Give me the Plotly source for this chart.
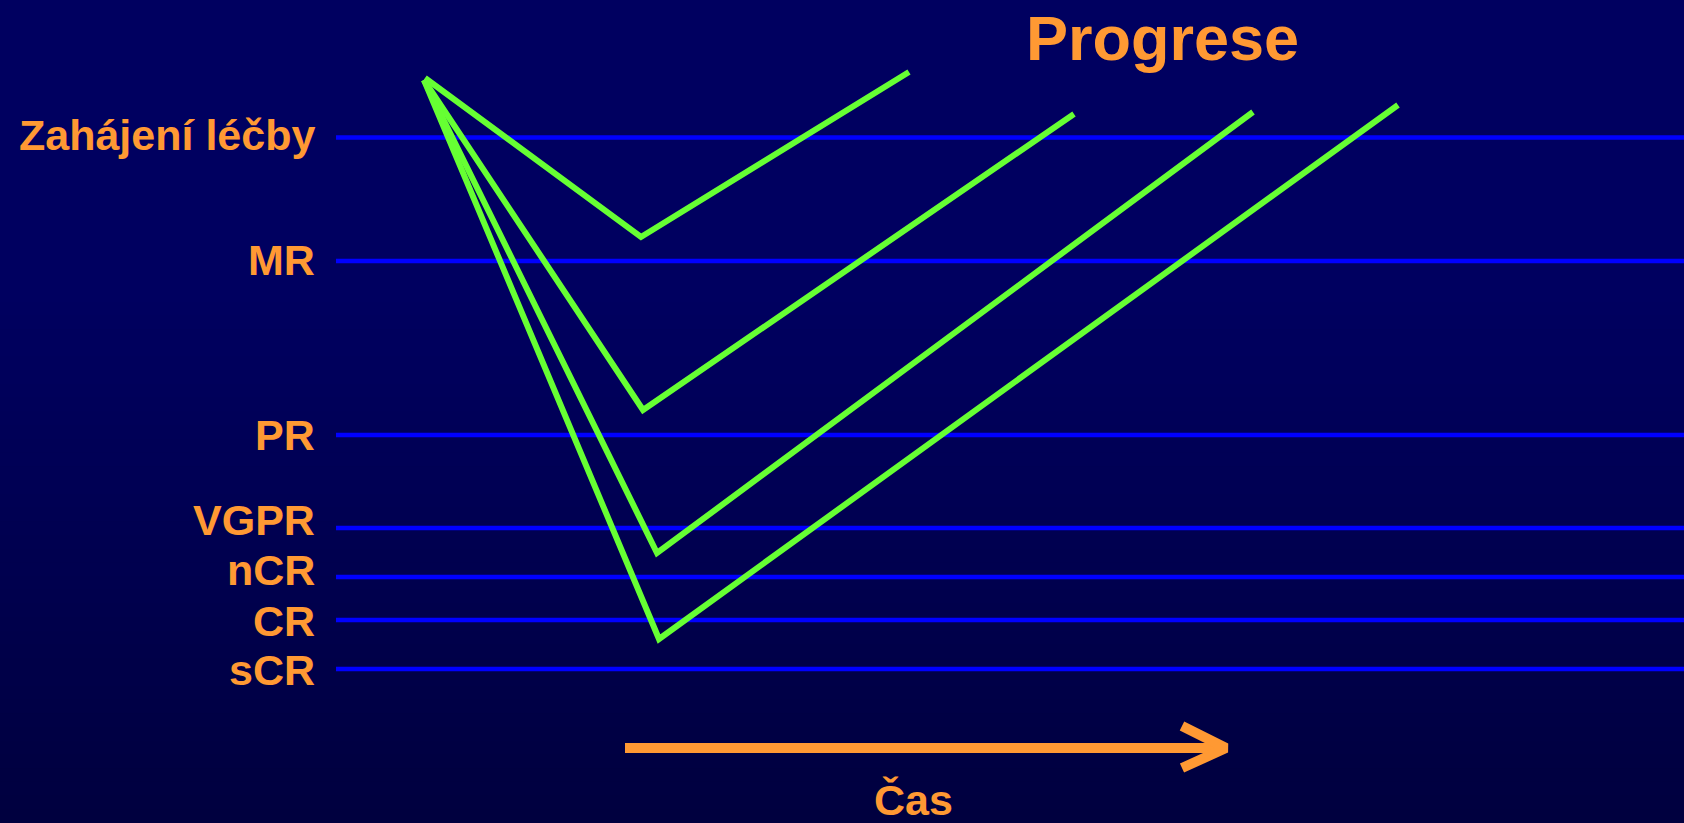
import plotly.graph_objects as go

# ---- data (axis units = figure pixels) ----
levels = ["Zahájení léčby", "MR", "PR", "VGPR", "nCR", "CR", "sCR"]
level_y = [137.5, 261, 435, 528, 577, 620, 669]
label_y = [134.5, 260, 435, 519.5, 570, 620.5, 670]   # visual centres of the labels

# four response curves: start -> nadir -> progression
curve_x = [
    [425, 641, 909],
    [424, 643, 1074],
    [424, 657, 1253],
    [424, 659, 1398],
]
curve_y = [
    [78, 237, 72],
    [80, 410, 114],
    [80, 553, 112],
    [80, 639, 105],
]

time_arrow_x = [625, 1226]
time_arrow_y = 748

W, H = 1684, 823
ORANGE = "#FF9933"
BLUE = "#0000FF"
GREEN = "#66FF33"
FONT = "Liberation Sans, Arial, sans-serif"

fig = go.Figure()

# horizontal response level lines
for lv, y in zip(levels, level_y):
    fig.add_trace(go.Scatter(x=[336, W + 5], y=[y, y], mode="lines",
                             line=dict(color=BLUE, width=4.5), hoverinfo="skip",
                             showlegend=False, name=lv))

# green curves
for xs, ys in zip(curve_x, curve_y):
    fig.add_trace(go.Scatter(x=xs, y=ys, mode="lines",
                             line=dict(color=GREEN, width=6), hoverinfo="skip",
                             showlegend=False))

# time arrow (shaft + open chevron)
x0, x1 = time_arrow_x
fig.add_trace(go.Scatter(
    x=[x0, x1, None, x1 - 44, x1, x1 - 44],
    y=[time_arrow_y, time_arrow_y, None, time_arrow_y - 22, time_arrow_y, time_arrow_y + 20],
    mode="lines", line=dict(color=ORANGE, width=10), hoverinfo="skip", showlegend=False))

# background gradient bands
shapes = []
n = 60
top = (0, 0, 96)
bot = (0, 0, 62)
for i in range(n):
    ya = H * i / n
    yb = H * (i + 1) / n + 1
    t = max(0.0, (ya / H - 0.35) / 0.65)
    c = tuple(round(top[k] + (bot[k] - top[k]) * t) for k in range(3))
    shapes.append(dict(type="rect", xref="x", yref="y", x0=0, x1=W, y0=ya, y1=yb,
                       fillcolor="rgb(%d,%d,%d)" % c, line=dict(width=0), layer="below"))

annotations = []
for lv, y in zip(levels, label_y):
    annotations.append(dict(x=317, y=y, text="<b>%s</b>" % lv, showarrow=False,
                            xanchor="right", yanchor="middle",
                            font=dict(family=FONT, size=43, color=ORANGE)))
annotations.append(dict(x=1162, y=38, text="<b>Progrese</b>", showarrow=False,
                        xanchor="center", yanchor="middle",
                        font=dict(family=FONT, size=63, color=ORANGE)))
annotations.append(dict(x=913, y=800, text="<b>Čas</b>", showarrow=False,
                        xanchor="center", yanchor="middle",
                        font=dict(family=FONT, size=43, color=ORANGE)))

fig.update_layout(
    width=W, height=H, margin=dict(l=0, r=0, t=0, b=0, pad=0),
    paper_bgcolor="#000060", plot_bgcolor="#000060",
    xaxis=dict(range=[0, W], visible=False, fixedrange=True),
    yaxis=dict(range=[H, 0], visible=False, fixedrange=True),
    shapes=shapes, annotations=annotations, showlegend=False,
)

fig.write_html("out.html", config={"displayModeBar": False})
